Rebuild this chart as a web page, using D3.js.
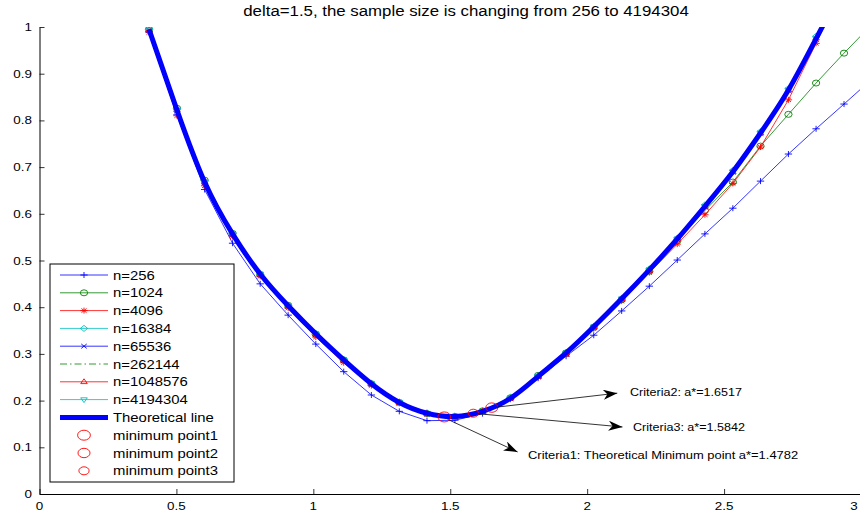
<!DOCTYPE html>
<html>
<head>
<meta charset="utf-8">
<script src="https://cdn.jsdelivr.net/npm/d3@7"></script>
<style>
  html, body { margin: 0; padding: 0; background: #fff; }
  svg { display: block; font-family: "Liberation Sans", Arial, Helvetica, sans-serif; }
</style>
</head>
<body>
<svg id="chart" width="860" height="515"></svg>
<script>
// ---------------- DATA ----------------
const titleText = "delta=1.5, the sample size is changing from 256 to 4194304";
const aValues = [0.400, 0.502, 0.603, 0.705, 0.806, 0.908, 1.009, 1.111, 1.212, 1.314, 1.415, 1.517, 1.618, 1.720, 1.821, 1.923, 2.024, 2.126, 2.227, 2.329, 2.430, 2.532, 2.633, 2.735, 2.836, 2.938, 3.039];

const n256     = [0.990, 0.812, 0.652, 0.537, 0.450, 0.383, 0.321, 0.262, 0.212, 0.177, 0.157, 0.158, 0.172, 0.203, 0.248, 0.295, 0.340, 0.392, 0.445, 0.501, 0.557, 0.612, 0.670, 0.728, 0.782, 0.835, 0.888];
const n1024    = [0.995, 0.826, 0.672, 0.558, 0.470, 0.404, 0.342, 0.287, 0.236, 0.196, 0.172, 0.166, 0.178, 0.206, 0.254, 0.302, 0.357, 0.416, 0.477, 0.542, 0.607, 0.668, 0.745, 0.813, 0.880, 0.944, 1.005];
const n4096    = [0.988, 0.810, 0.660, 0.551, 0.466, 0.398, 0.336, 0.281, 0.232, 0.194, 0.171, 0.165, 0.176, 0.204, 0.250, 0.299, 0.354, 0.413, 0.474, 0.535, 0.598, 0.665, 0.743, 0.844, 0.965, 1.090, 1.200];
const n16384   = [0.996, 0.824, 0.670, 0.559, 0.472, 0.404, 0.344, 0.288, 0.237, 0.197, 0.174, 0.167, 0.178, 0.207, 0.253, 0.303, 0.359, 0.419, 0.482, 0.548, 0.619, 0.693, 0.776, 0.868, 0.980, 1.095, 1.215];
const n65536   = [0.993, 0.821, 0.667, 0.556, 0.470, 0.402, 0.342, 0.286, 0.235, 0.195, 0.172, 0.165, 0.176, 0.204, 0.251, 0.301, 0.357, 0.417, 0.479, 0.545, 0.615, 0.689, 0.772, 0.864, 0.974, 1.090, 1.210];
const n262144  = [0.994, 0.822, 0.668, 0.557, 0.471, 0.403, 0.343, 0.287, 0.236, 0.196, 0.173, 0.166, 0.177, 0.205, 0.252, 0.302, 0.358, 0.418, 0.480, 0.546, 0.616, 0.690, 0.773, 0.865, 0.975, 1.090, 1.210];
const n1048576 = [0.994, 0.823, 0.668, 0.557, 0.471, 0.403, 0.343, 0.287, 0.236, 0.196, 0.173, 0.166, 0.177, 0.205, 0.252, 0.302, 0.358, 0.418, 0.480, 0.546, 0.616, 0.690, 0.773, 0.865, 0.976, 1.090, 1.210];
const n4194304 = [0.994, 0.822, 0.668, 0.557, 0.471, 0.403, 0.343, 0.287, 0.236, 0.196, 0.173, 0.166, 0.177, 0.205, 0.252, 0.302, 0.358, 0.418, 0.480, 0.546, 0.616, 0.690, 0.773, 0.865, 0.975, 1.090, 1.210];
const theoretical = [0.995, 0.822, 0.668, 0.557, 0.471, 0.403, 0.343, 0.287, 0.236, 0.196, 0.173, 0.166, 0.177, 0.205, 0.252, 0.302, 0.358, 0.418, 0.480, 0.546, 0.616, 0.690, 0.773, 0.865, 0.975, 1.090, 1.210];

const seriesNames  = ["n=256", "n=1024", "n=4096", "n=16384", "n=65536", "n=262144", "n=1048576", "n=4194304"];
const seriesValues = [n256, n1024, n4096, n16384, n65536, n262144, n1048576, n4194304];

const minNames  = ["minimum point1", "minimum point2", "minimum point3"];
const minA      = [1.4782, 1.6517, 1.5842];
const minY      = [0.165, 0.185, 0.173];

const annotTexts = ["Criteria1: Theoretical Minimum point a*=1.4782", "Criteria2: a*=1.6517", "Criteria3: a*=1.5842"];
const annotFromA = [1.4900, 1.6700, 1.6000];
const annotFromY = [0.160, 0.186, 0.172];
const annotToA   = [1.7460, 2.1100, 2.1290];
const annotToY   = [0.090, 0.216, 0.1435];

const xTicks = [0, 0.5, 1, 1.5, 2, 2.5, 3];
const yTicks = [0, 0.1, 0.2, 0.3, 0.4, 0.5, 0.6, 0.7, 0.8, 0.9, 1];

// ---------------- STYLE ----------------
const SX = 1.22; // horizontal stretch of the original figure
const styles = [
  { color: "#0000ff", marker: "plus",    dash: null },
  { color: "#008000", marker: "circle",  dash: null },
  { color: "#ff0000", marker: "star",    dash: null },
  { color: "#00bfbf", marker: "diamond", dash: null },
  { color: "#0000ff", marker: "cross",   dash: null },
  { color: "#008000", marker: "none",    dash: "7,3,1.5,3" },
  { color: "#ff0000", marker: "triUp",   dash: null },
  { color: "#00bfbf", marker: "triDown", dash: null }
];
const minRadius = [5, 4.7, 4];

// ---------------- CHART ----------------
const svg = d3.select("#chart");
const pLeft = 39.5, pRight = 861, pTop = 27, pBottom = 494;
const x = d3.scaleLinear().domain([0, 3]).range([pLeft, pRight]);
const y = d3.scaleLinear().domain([0, 1]).range([pBottom, pTop]);

const defs = svg.append("defs");
defs.append("clipPath").attr("id", "clip")
  .append("rect").attr("x", pLeft).attr("y", pTop).attr("width", pRight - pLeft).attr("height", pBottom - pTop);

function markerPath(type, s) {
  switch (type) {
    case "plus": return `M${-s},0H${s}M0,${-s}V${s}`;
    case "cross": return `M${-s*0.75},${-s*0.75}L${s*0.75},${s*0.75}M${-s*0.75},${s*0.75}L${s*0.75},${-s*0.75}`;
    case "star": return `M${-s},0H${s}M0,${-s}V${s}M${-s*0.7},${-s*0.7}L${s*0.7},${s*0.7}M${-s*0.7},${s*0.7}L${s*0.7},${-s*0.7}`;
    case "circle": return `M${s},0A${s},${s} 0 1,1 ${-s},0A${s},${s} 0 1,1 ${s},0Z`;
    case "diamond": return `M0,${-s}L${s},0L0,${s}L${-s},0Z`;
    case "triUp": return `M0,${-s}L${s*0.9},${s*0.6}L${-s*0.9},${s*0.6}Z`;
    case "triDown": return `M0,${s}L${s*0.9},${-s*0.6}L${-s*0.9},${-s*0.6}Z`;
    default: return "";
  }
}

function drawMarker(g, type, px, py, color, s) {
  if (type === "none") return;
  g.append("path")
    .attr("d", markerPath(type, s))
    .attr("transform", `translate(${px},${py}) scale(${SX},1)`)
    .attr("fill", "none").attr("stroke", color).attr("stroke-width", 0.8);
}

function addText(g, str, px, py, size, anchor) {
  return g.append("text")
    .attr("transform", `translate(${px},${py}) scale(${SX},1)`)
    .attr("font-size", size).attr("text-anchor", anchor || "start")
    .attr("fill", "#000").text(str);
}

const plot = svg.append("g").attr("clip-path", "url(#clip)");
const line = d3.line().x((d, i) => x(aValues[i])).y(d => y(d));

seriesValues.forEach((vals, si) => {
  const st = styles[si];
  plot.append("path").datum(vals)
    .attr("d", line)
    .attr("fill", "none").attr("stroke", st.color).attr("stroke-width", 0.8)
    .attr("stroke-dasharray", st.dash);
  const mg = plot.append("g");
  vals.forEach((v, i) => drawMarker(mg, st.marker, x(aValues[i]), y(v), st.color, 3));
});

// theoretical line
const smooth = d3.line().x((d, i) => x(aValues[i])).y(d => y(d)).curve(d3.curveNatural);
plot.append("path").datum(theoretical)
  .attr("d", smooth)
  .attr("fill", "none").attr("stroke", "#0000ff").attr("stroke-width", 5)
  .attr("stroke-linejoin", "round");

// minimum points
minA.forEach((a, i) => {
  plot.append("ellipse")
    .attr("cx", x(a)).attr("cy", y(minY[i]))
    .attr("rx", minRadius[i] * SX * 1.05).attr("ry", minRadius[i])
    .attr("fill", "none").attr("stroke", "#ff0000").attr("stroke-width", 0.9);
});

// axes
const xAxis = d3.axisBottom(x).tickValues(xTicks).tickFormat(d3.format("~g")).tickSizeInner(-5).tickSizeOuter(0);
const yAxis = d3.axisLeft(y).tickValues(yTicks).tickFormat(d3.format("~g")).tickSizeInner(-5).tickSizeOuter(0);
const gx = svg.append("g").attr("transform", `translate(0,${pBottom})`).call(xAxis);
const gy = svg.append("g").attr("transform", `translate(${pLeft},0)`).call(yAxis);
[gx, gy].forEach(g => {
  g.select(".domain").attr("stroke", "#000").attr("stroke-width", 1);
  g.selectAll(".tick line").attr("stroke", "#000").attr("stroke-width", 0.8);
  g.selectAll(".tick text").remove();
});
xTicks.forEach(t => addText(svg, d3.format("~g")(t), Math.min(x(t), 854), 510, 11, "middle"));
yTicks.forEach(t => addText(svg, d3.format("~g")(t), 32, y(t) + 4, 11, "end"));

// title
addText(svg, titleText, 466, 16, 13.8, "middle");

// annotations
defs.append("marker").attr("id", "arrowhead")
  .attr("viewBox", "0 0 14 10").attr("refX", 14).attr("refY", 5)
  .attr("markerWidth", 14).attr("markerHeight", 10).attr("markerUnits", "userSpaceOnUse")
  .attr("orient", "auto")
  .append("path").attr("d", "M0,0 L14,5 L0,10 L4,5 Z").attr("fill", "#000");

annotTexts.forEach((t, i) => {
  svg.append("line")
    .attr("x1", x(annotFromA[i])).attr("y1", y(annotFromY[i]))
    .attr("x2", x(annotToA[i])).attr("y2", y(annotToY[i]))
    .attr("stroke", "#000").attr("stroke-width", 0.8)
    .attr("marker-end", "url(#arrowhead)");
});
addText(svg, annotTexts[0], 528, 459, 10.6);
addText(svg, annotTexts[1], 630, 396, 10.3);
addText(svg, annotTexts[2], 633, 431, 10.3);

// legend
const lg = svg.append("g");
const lx = 50, ly = 264, lw = 184, lh = 218;
lg.append("rect").attr("x", lx).attr("y", ly).attr("width", lw).attr("height", lh)
  .attr("fill", "#fff").attr("stroke", "#000").attr("stroke-width", 1);
const rowY = i => 275 + i * 17.8;
seriesNames.forEach((name, i) => {
  const st = styles[i];
  lg.append("line").attr("x1", 60).attr("x2", 108).attr("y1", rowY(i)).attr("y2", rowY(i))
    .attr("stroke", st.color).attr("stroke-width", 0.8).attr("stroke-dasharray", st.dash);
  drawMarker(lg, st.marker, 84, rowY(i), st.color, 3);
  addText(lg, name, 113, rowY(i) + 4.5, 12.2);
});
lg.append("line").attr("x1", 60).attr("x2", 108).attr("y1", rowY(8)).attr("y2", rowY(8))
  .attr("stroke", "#0000ff").attr("stroke-width", 5);
addText(lg, "Theoretical line", 113, rowY(8) + 4.5, 12.2);
minNames.forEach((name, i) => {
  const r = rowY(9 + i);
  lg.append("ellipse").attr("cx", 84).attr("cy", r)
    .attr("rx", minRadius[i] * SX * 1.05).attr("ry", minRadius[i])
    .attr("fill", "none").attr("stroke", "#ff0000").attr("stroke-width", 0.9);
  addText(lg, name, 113, r + 4.5, 12.2);
});
</script>
</body>
</html>
